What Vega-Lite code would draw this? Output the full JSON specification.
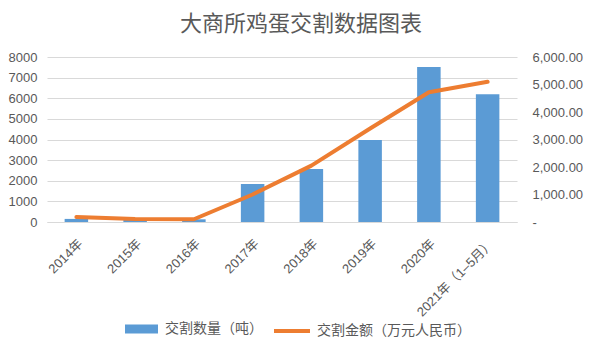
{
  "$schema": "https://vega.github.io/schema/vega-lite/v6.json",
  "width": 470,
  "height": 165,
  "autosize": {"type": "none"},
  "padding": {"left": 47, "top": 57, "right": 85, "bottom": 132},
  "background": "white",
  "title": {"text": "大商所鸡蛋交割数据图表", "fontSize": 22, "font": "Noto Sans CJK SC", "fontWeight": "normal", "color": "#595959", "offset": 15, "dx": 19},
  "config": {
    "view": {"stroke": null},
    "axis": {"labelColor": "#595959", "labelFont": "Liberation Sans, Noto Sans CJK SC", "labelFontSize": 13, "gridColor": "#D9D9D9", "ticks": false, "domain": false, "title": null},
    "legend": {"labelFont": "Noto Sans CJK SC", "labelFontSize": 14, "labelColor": "#595959", "title": null}
  },
  "data": {"values": [
    {"year": "2014年", "qty": 150, "amt": 180},
    {"year": "2015年", "qty": 100, "amt": 110},
    {"year": "2016年", "qty": 130, "amt": 100},
    {"year": "2017年", "qty": 1840, "amt": 1000},
    {"year": "2018年", "qty": 2570, "amt": 2050},
    {"year": "2019年", "qty": 3970, "amt": 3400},
    {"year": "2020年", "qty": 7520, "amt": 4720},
    {"year": "2021年（1–5月）", "qty": 6200, "amt": 5100}
  ]},
  "encoding": {
    "x": {"field": "year", "type": "nominal", "sort": null,
      "scale": {"paddingInner": 0.6, "paddingOuter": 0.3},
      "axis": {"labelAngle": -45, "labelPadding": 15, "domain": true, "domainColor": "#D9D9D9", "grid": false}}
  },
  "layer": [
    {
      "mark": {"type": "bar"},
      "encoding": {
        "y": {"field": "qty", "type": "quantitative", "scale": {"domain": [0, 8000]},
          "axis": {"orient": "left", "values": [0,1000,2000,3000,4000,5000,6000,7000,8000], "format": "d", "labelPadding": 10, "grid": true}},
        "fill": {"datum": "交割数量（吨）", "type": "nominal", "scale": {"range": ["#5B9BD5"]},
          "legend": {"orient": "none", "legendX": 84.5, "legendY": 262, "symbolType": "M-1.65,-0.45H1.65V0.45H-1.65Z", "symbolSize": 400, "symbolStrokeWidth": 0, "labelOffset": 13.5}}
      }
    },
    {
      "mark": {"type": "line", "strokeWidth": 4, "strokeCap": "round", "strokeJoin": "round"},
      "encoding": {
        "y": {"field": "amt", "type": "quantitative", "scale": {"domain": [0, 6000]},
          "axis": {"orient": "right", "values": [0,1000,2000,3000,4000,5000,6000], "labelExpr": "datum.value == 0 ? '-' : format(datum.value, ',.2f')", "labelPadding": 15, "labelAlign": "left", "grid": false}},
        "stroke": {"datum": "交割金额（万元人民币）", "type": "nominal", "scale": {"range": ["#ED7D31"]},
          "legend": {"orient": "none", "legendX": 225, "legendY": 254, "symbolType": "stroke", "symbolSize": 1296, "symbolStrokeWidth": 4, "labelOffset": 5}}
      }
    }
  ],
  "resolve": {"scale": {"y": "independent"}}
}
